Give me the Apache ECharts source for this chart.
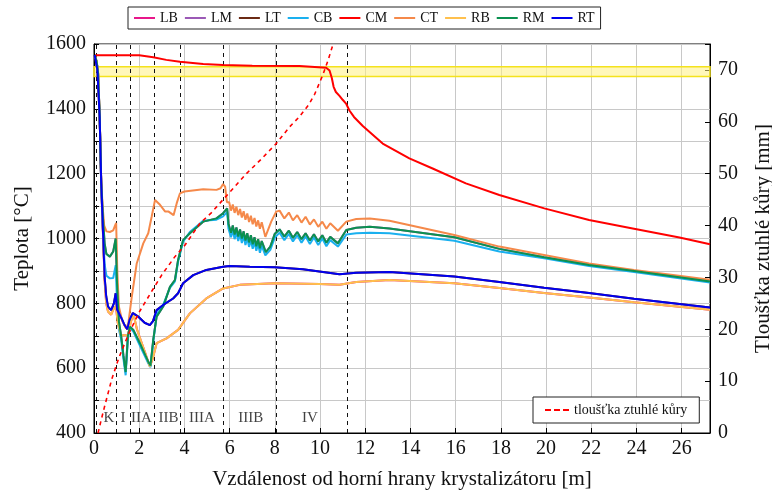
<!DOCTYPE html>
<html>
<head>
<meta charset="utf-8">
<script src="https://cdn.jsdelivr.net/npm/echarts@6/dist/echarts.min.js"></script>
<style>
html, body { margin: 0; padding: 0; background: #fff; }
#chart { width: 772px; height: 491px; }
</style>
</head>
<body>
<div id="chart"></div>
<script>
// teploty [°C] podle vzdálenosti od horní hrany [m]
var CM = [[0.05,1565],[2.0,1565],[2.62,1559],[3.2,1551],[3.8,1545],[4.83,1538],[5.71,1535],[7.0,1533],[9.09,1532],[10.27,1527],[10.42,1518],[10.52,1495],[10.6,1468],[10.7,1452],[10.86,1440],[11.0,1428],[11.16,1415],[11.3,1395],[11.5,1375],[11.89,1347],[12.77,1293],[13.95,1247],[14.98,1216],[16.45,1170],[17.93,1134],[19.92,1093],[21.9,1057],[23.83,1031],[25.9,1003],[27.25,982]];

var CT = [[0.03,1566],[0.12,1545],[0.18,1510],[0.25,1380],[0.32,1175],[0.38,1100],[0.45,1040],[0.55,1022],[0.7,1020],[0.85,1025],[0.93,1040],[0.98,1048],[1.03,900],[1.1,790],[1.25,745],[1.42,722],[1.52,739],[1.67,820],[1.89,923],[2.18,985],[2.4,1016],[2.55,1067],[2.7,1119],[2.77,1124],[2.92,1104],[3.15,1083],[3.3,1083],[3.37,1088],[3.52,1072],[3.66,1109],[3.8,1139],[4.0,1145],[4.83,1152],[5.42,1150],[5.6,1155],[5.71,1168],[5.8,1160],[5.88,1112],
  [5.98,1112],[6.06,1086],[6.14,1105],[6.22,1079],[6.30,1098],[6.38,1072],[6.46,1091],[6.54,1065],[6.62,1084],[6.70,1058],[6.78,1077],[6.86,1051],[6.94,1070],[7.02,1044],[7.10,1063],[7.18,1037],[7.26,1056],[7.34,1030],[7.42,1050],[7.58,1005],[7.84,1052],[8.06,1083],
  [8.21,1086],[8.42,1062],[8.62,1080],[8.8,1056],[8.99,1072],[9.18,1049],[9.36,1067],[9.55,1043],[9.73,1059],[9.92,1036],[10.1,1052],[10.28,1030],[10.45,1047],[10.79,1024],[11.16,1052],[11.6,1060],[12.2,1062],[13.07,1055],[15.94,1011],[17.93,975],[19.91,949],[21.9,923],[23.89,903],[27.25,873]];

var RM = [[0.03,1566],[0.12,1545],[0.18,1510],[0.25,1380],[0.32,1170],[0.4,1060],[0.47,985],[0.55,952],[0.7,944],[0.85,960],[0.96,1000],[1.02,860],[1.1,745],[1.2,700],[1.3,640],[1.4,588],[1.5,700],[1.59,728],[1.74,718],[2.03,677],[2.4,620],[2.5,608],[2.62,687],[2.77,759],[3.06,790],[3.36,851],[3.58,872],[3.72,934],[3.94,995],[4.24,1016],[4.83,1052],[5.42,1062],[5.71,1078],[5.89,1093],[5.95,1045],
  [6.06,1018],[6.14,1040],[6.22,1012],[6.30,1034],[6.38,1006],[6.46,1028],[6.54,1000],[6.62,1022],[6.70,994],[6.78,1016],[6.86,988],[6.94,1010],[7.02,982],[7.10,1004],[7.18,976],[7.26,998],[7.34,970],[7.42,992],[7.6,958],[7.8,975],[8.0,1015],
  [8.21,1028],[8.42,1006],[8.62,1024],[8.8,1002],[8.99,1020],[9.18,998],[9.36,1016],[9.55,994],[9.73,1013],[9.92,991],[10.1,1010],[10.28,987],[10.45,1005],[10.79,985],[11.16,1026],[11.6,1033],[12.2,1036],[13.07,1031],[15.94,1004],[17.93,968],[19.91,942],[21.9,918],[23.89,900],[27.25,867]];

var CB = [[0.03,1566],[0.12,1545],[0.18,1510],[0.25,1380],[0.32,1160],[0.4,1020],[0.47,920],[0.55,885],[0.7,877],[0.85,878],[0.96,918],[1.02,800],[1.1,720],[1.2,690],[1.3,630],[1.4,578],[1.5,690],[1.59,725],[1.74,713],[2.03,670],[2.4,615],[2.5,603],[2.62,680],[2.77,765],[3.06,795],[3.36,848],[3.58,868],[3.72,928],[3.94,990],[4.24,1020],[4.83,1055],[5.42,1058],[5.71,1068],[5.89,1082],[5.95,1030],
  [6.06,1004],[6.14,1026],[6.22,998],[6.30,1020],[6.38,992],[6.46,1014],[6.54,986],[6.62,1008],[6.70,980],[6.78,1002],[6.86,974],[6.94,996],[7.02,968],[7.10,990],[7.18,962],[7.26,984],[7.34,956],[7.42,978],[7.58,948],[7.8,965],[8.0,1003],
  [8.21,1018],[8.42,995],[8.62,1014],[8.8,991],[8.99,1010],[9.18,987],[9.36,1006],[9.55,983],[9.73,1003],[9.92,980],[10.1,1000],[10.28,976],[10.45,995],[10.79,975],[11.16,1012],[11.6,1016],[12.2,1018],[13.07,1016],[15.94,993],[17.93,960],[19.91,939],[21.9,915],[23.89,897],[27.25,864]];

var RT = [[0.03,1566],[0.1,1560],[0.15,1520],[0.25,1376],[0.32,1170],[0.4,1016],[0.47,882],[0.54,821],[0.62,790],[0.76,779],[0.88,800],[0.96,831],[1.02,780],[1.1,770],[1.21,755],[1.35,733],[1.47,720],[1.57,749],[1.72,770],[1.94,760],[2.24,740],[2.47,733],[2.61,745],[2.77,779],[3.06,795],[3.5,815],[3.72,831],[3.94,862],[4.39,887],[4.97,903],[5.71,913],[6.0,915],[6.89,913],[7.99,911],[9.24,905],[10.86,890],[11.6,894],[13.07,897],[15.94,883],[17.93,866],[19.91,848],[21.9,832],[23.89,814],[27.25,787]];

var RB = [[0.03,1566],[0.12,1545],[0.18,1510],[0.25,1380],[0.32,1165],[0.4,1010],[0.47,870],[0.54,800],[0.62,775],[0.76,765],[0.88,785],[0.97,790],[1.05,740],[1.2,700],[1.37,702],[1.5,700],[1.62,740],[1.74,769],[1.9,720],[2.1,680],[2.3,640],[2.47,605],[2.6,630],[2.77,677],[3.21,692],[3.72,718],[4.24,769],[4.97,815],[5.71,846],[6.45,857],[7.99,862],[9.98,860],[10.86,857],[11.6,866],[13.07,872],[15.94,862],[17.93,847],[19.91,832],[21.9,818],[23.89,803],[27.25,780]];

// levá strana je symetrická s pravou (v grafu překrytá)
var LB = RB;
var LM = RM;
var LT = RT;

// tloušťka ztuhlé kůry [mm]
var KURA = [[0.18,0],[0.3,2.2],[0.45,4.8],[0.66,8.3],[0.78,10.3],[1.1,14.5],[1.52,19],[2.0,23.3],[2.55,27.3],[3.0,30.5],[3.58,34],[4.02,36.2],[4.68,40.4],[5.2,42.5],[5.71,45],[6.74,50],[7.4,52.8],[8.06,55.8],[8.65,59],[9.09,61],[9.5,63.3],[9.76,65.3],[10.12,69],[10.35,71.8],[10.6,75.3]];

// hranice zón a jejich popisky
var zoneBounds = [0.08, 0.97, 1.6, 2.65, 3.82, 5.72, 8.05, 11.2];
var zoneNames = ['K', 'I', 'IIA', 'IIB', 'IIIA', 'IIIB', 'IV'];
var zoneLabelX = [0.66, 1.28, 2.1, 3.3, 4.77, 6.93, 9.55];
var zoneLabelY = 446;

// pásmo likvidu/solidu
var band = [1500, 1530];

var names = ['LB', 'LM', 'LT', 'CB', 'CM', 'CT', 'RB', 'RM', 'RT'];
var datas = [LB, LM, LT, CB, CM, CT, RB, RM, RT];
var colors = ['#e8178a', '#9b59b6', '#6b2a14', '#1ab0ef', '#ff0000', '#f5894a', '#ffc04d', '#0b9150', '#0000ee'];

var font = 'Liberation Serif';
var kuraName = 'tloušťka ztuhlé kůry';

var myChart = echarts.init(document.getElementById('chart'));

var series = [];
for (var i = 0; i < names.length; i++) {
    series.push({
        name: names[i],
        type: 'line',
        symbol: 'none',
        data: datas[i],
        lineStyle: { color: colors[i], width: 2 },
        itemStyle: { color: colors[i] },
        z: 3 + i
    });
}

series.push({
    name: kuraName,
    type: 'line',
    yAxisIndex: 1,
    symbol: 'none',
    data: KURA,
    lineStyle: { color: '#ff0000', width: 1.6, type: [4, 4] },
    itemStyle: { color: '#ff0000' },
    z: 20
});

var zoneLabels = [];
for (var j = 0; j < zoneNames.length; j++) {
    zoneLabels.push({ value: [zoneLabelX[j], zoneLabelY], name: zoneNames[j] });
}

series.push({
    name: 'zony',
    type: 'scatter',
    symbolSize: 0,
    data: zoneLabels,
    silent: true,
    z: 2,
    label: {
        show: true,
        position: 'inside',
        formatter: '{b}',
        color: '#111',
        fontFamily: font,
        fontSize: 15
    },
    markLine: {
        silent: true,
        symbol: ['none', 'none'],
        label: { show: false },
        lineStyle: { color: '#111', type: [4, 4], width: 1 },
        data: zoneBounds.map(function (v) { return { xAxis: v }; })
    },
    markArea: {
        silent: true,
        itemStyle: { color: 'rgba(255,240,130,0.55)', borderColor: '#f4e21c', borderWidth: 1.5 },
        data: [[{ yAxis: band[0] }, { yAxis: band[1] }]]
    }
});

var legendData = names.map(function (n) { return { name: n, icon: 'rect' }; });

var option = {
    animation: false,
    backgroundColor: '#fff',
    textStyle: { fontFamily: font },
    legend: [
        {
            data: legendData,
            left: 128,
            top: 7,
            itemWidth: 21,
            itemHeight: 2,
            itemGap: 7,
            padding: [4, 6],
            borderColor: '#222',
            borderWidth: 1,
            textStyle: { fontFamily: font, fontSize: 14, color: '#111' }
        },
        {
            data: [{ name: kuraName, icon: 'path://M0,0h6v2h-6z M9,0h6v2h-6z M18,0h6v2h-6z' }],
            left: 533,
            top: 397,
            itemWidth: 24,
            itemHeight: 2,
            padding: [6, 12],
            borderColor: '#222',
            borderWidth: 1,
            backgroundColor: '#fff',
            textStyle: { fontFamily: font, fontSize: 14, color: '#111' }
        }
    ],
    grid: {
        show: true,
        left: 94,
        right: 62,
        top: 44,
        bottom: 58,
        outerBoundsMode: 'none',
        containLabel: false,
        borderColor: '#000',
        borderWidth: 1
    },
    xAxis: {
        type: 'value',
        min: 0,
        max: 27.25,
        interval: 2,
        name: 'Vzdálenost od horní hrany krystalizátoru [m]',
        nameLocation: 'middle',
        nameGap: 36,
        nameTextStyle: { fontFamily: font, fontSize: 21, color: '#111' },
        axisLine: { lineStyle: { color: '#000' } },
        axisTick: { inside: true, lineStyle: { color: '#000' } },
        axisLabel: {
            fontFamily: font, fontSize: 20, color: '#111', margin: 6,
            formatter: function (v) { return v % 2 === 0 ? v : ''; }
        },
        splitLine: { show: true, lineStyle: { color: '#c8c8c8' } }
    },
    yAxis: [
        {
            type: 'value',
            min: 400,
            max: 1600,
            interval: 100,
            name: 'Teplota [°C]',
            nameLocation: 'middle',
            nameGap: 61,
            nameTextStyle: { fontFamily: font, fontSize: 21, color: '#111' },
            axisLine: { show: true, lineStyle: { color: '#000' } },
            axisTick: { show: true, inside: true, lineStyle: { color: '#000' } },
            axisLabel: {
                fontFamily: font, fontSize: 20, color: '#111', margin: 8,
                formatter: function (v) { return v % 200 === 0 ? v : ''; }
            },
            splitLine: { show: true, lineStyle: { color: '#c8c8c8' } }
        },
        {
            type: 'value',
            min: 0,
            max: 75,
            interval: 10,
            position: 'right',
            name: 'Tloušťka ztuhlé kůry [mm]',
            nameLocation: 'middle',
            nameGap: 43,
            nameRotate: 90,
            nameTextStyle: { fontFamily: font, fontSize: 21, color: '#111' },
            axisLine: { show: true, lineStyle: { color: '#000' } },
            axisTick: { show: true, inside: true, lineStyle: { color: '#000' } },
            axisLabel: {
                fontFamily: font, fontSize: 20, color: '#111', margin: 8,
                formatter: function (v) { return v % 10 === 0 ? v : ''; }
            },
            splitLine: { show: false }
        }
    ],
    series: series
};

myChart.setOption(option);
</script>
</body>
</html>
